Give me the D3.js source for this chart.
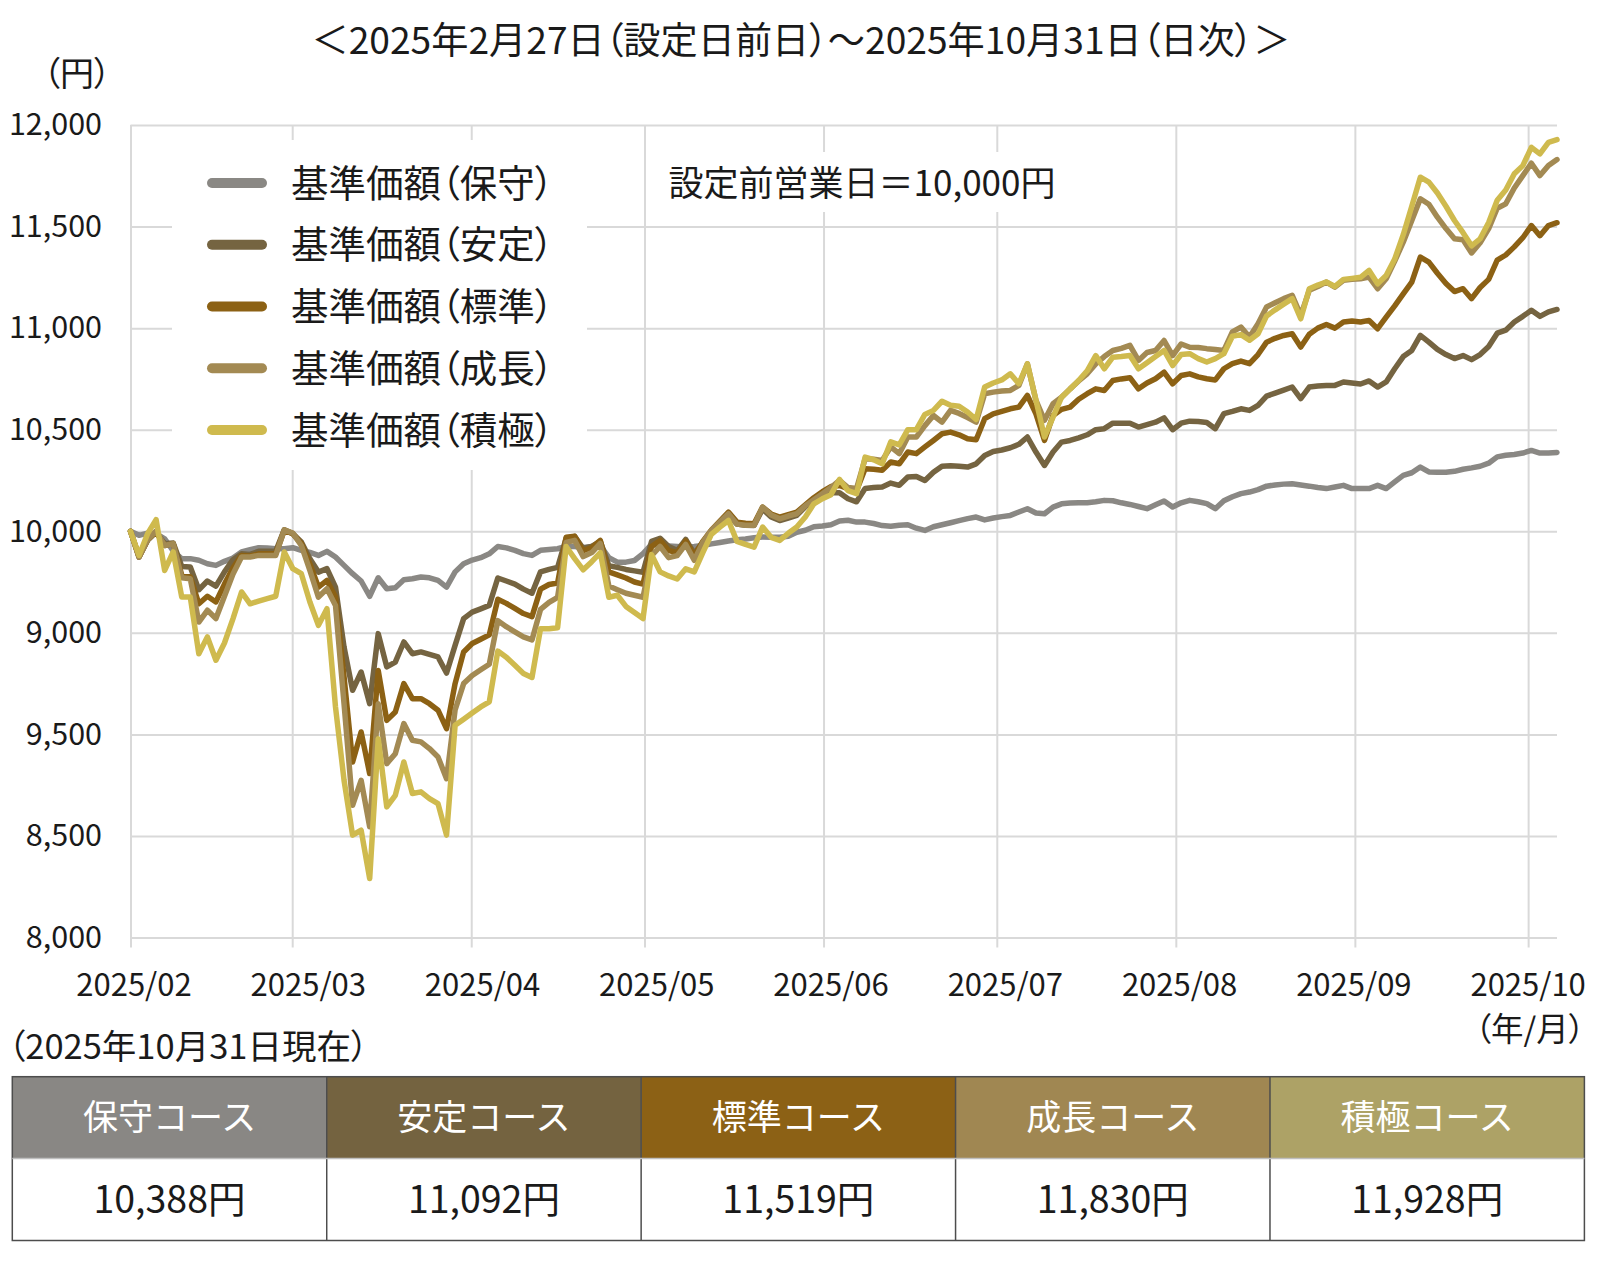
<!DOCTYPE html>
<html lang="ja">
<head>
<meta charset="utf-8">
<title>基準価額の推移</title>
<script src="https://cdn.jsdelivr.net/npm/d3@7"></script>
<style>
  html, body { margin: 0; padding: 0; background: #fff; }
  svg { display: block; font-family: "Noto Sans CJK JP", "Noto Sans", sans-serif; }
  .palt { font-feature-settings: "palt" 1; }
</style>
</head>
<body>
<svg id="chart" width="1602" height="1268"></svg>
<script>
// 2025/2/27(設定日前日)=10,000円 から 2025/10/31 までの営業日ごとの基準価額（168営業日）
const courseNames = ["保守", "安定", "標準", "成長", "積極"];
const lineColors = ["#8a8884", "#756441", "#8c6114", "#a38a53", "#cfba4e"];
const headerColors = ["#898784", "#746340", "#8c6115", "#a08752", "#ada266"];

const xTickLabels = ["2025/02", "2025/03", "2025/04", "2025/05", "2025/06", "2025/07", "2025/08", "2025/09", "2025/10"];
const yTicks = [12000, 11500, 11000, 10500, 10000, 9500, 9000, 8500, 8000];
// 目盛りラベルは元の図のとおり（9,000 と 9,500 の並びも元図に合わせる）
const yTickLabels = ["12,000", "11,500", "11,000", "10,500", "10,000", "9,000", "9,500", "8,500", "8,000"];

const navHoshu = [
  10000, 9980, 9991, 9988, 9963, 9903, 9865, 9865, 9857, 9840,
  9832, 9852, 9868, 9898, 9909, 9919, 9917, 9914, 9914, 9919,
  9906, 9896, 9881, 9901, 9873, 9832, 9791, 9755, 9680, 9771,
  9717, 9722, 9761, 9766, 9775, 9771, 9758, 9725, 9800, 9840,
  9858, 9870, 9889, 9925, 9918, 9906, 9890, 9881, 9906, 9910,
  9914, 9925, 9925, 9920, 9925, 9930, 9870, 9848, 9848, 9856,
  9890, 9935, 9930, 9928, 9925, 9922, 9925, 9930, 9938, 9945,
  9952, 9958, 9962, 9968, 9972, 9970, 9970, 9975, 9995, 10005,
  10022, 10026, 10032, 10050, 10054, 10045, 10045, 10038, 10028, 10025,
  10030, 10032, 10015, 10004, 10022, 10032, 10042, 10052, 10062, 10070,
  10056, 10065, 10072, 10078, 10095, 10111, 10090, 10086, 10119, 10135,
  10139, 10140, 10140, 10145, 10152, 10150, 10140, 10132, 10122, 10111,
  10130, 10149, 10119, 10140, 10152, 10145, 10136, 10111, 10150, 10170,
  10185, 10193, 10205, 10222, 10228, 10232, 10234, 10228, 10222, 10215,
  10210, 10218, 10226, 10210, 10210, 10210, 10226, 10210, 10243, 10275,
  10288, 10316, 10292, 10290, 10290, 10295, 10305, 10312, 10320, 10335,
  10366, 10374, 10378, 10385, 10398, 10385, 10385, 10388
];
const navAntei = [
  10000, 9873, 9955, 9996, 9939, 9942, 9827, 9824, 9712, 9755,
  9730, 9800, 9860, 9889, 9886, 9901, 9901, 9901, 10007, 9988,
  9947, 9865, 9799, 9816, 9725, 9430, 9217, 9307, 9151, 9496,
  9332, 9356, 9455, 9397, 9406, 9394, 9381, 9302, 9438, 9570,
  9602, 9618, 9635, 9770, 9755, 9740, 9715, 9695, 9800, 9812,
  9822, 9965, 9975, 9915, 9925, 9950, 9830, 9822, 9812, 9805,
  9798, 9950, 9965, 9925, 9905, 9960, 9890, 9945, 9995, 10040,
  10078, 10035, 10030, 10028, 10110, 10070, 10053, 10065, 10078, 10120,
  10150, 10170, 10190, 10190, 10160, 10145, 10210, 10215, 10218, 10237,
  10226, 10267, 10270, 10250, 10290, 10320, 10322, 10320, 10316, 10332,
  10373, 10393, 10400, 10411, 10428, 10464, 10390, 10324, 10390, 10439,
  10447, 10460, 10475, 10500, 10505, 10532, 10532, 10532, 10513, 10525,
  10537, 10558, 10500, 10532, 10542, 10540, 10535, 10505, 10579, 10590,
  10603, 10595, 10620, 10665, 10680, 10695, 10710, 10653, 10710, 10715,
  10718, 10718, 10735, 10730, 10725, 10740, 10710, 10735, 10800, 10860,
  10890, 10964, 10931, 10895, 10870, 10850, 10865, 10845, 10870, 10910,
  10975, 10990, 11030, 11058, 11088, 11058, 11080, 11092
];
const navHyojun = [
  10000, 9873, 9958, 9996, 9930, 9939, 9783, 9775, 9643, 9680,
  9652, 9740, 9820, 9881, 9878, 9889, 9889, 9889, 10004, 9988,
  9939, 9840, 9725, 9758, 9676, 9283, 8864, 9012, 8807, 9315,
  9069, 9110, 9250, 9176, 9176, 9151, 9119, 9028, 9250, 9406,
  9447, 9468, 9490, 9665, 9645, 9620, 9595, 9580, 9715, 9738,
  9745, 9970, 9975, 9905, 9920, 9955, 9800, 9785, 9770, 9750,
  9740, 9925, 9955, 9905, 9895, 9952, 9880, 9950, 10005, 10050,
  10094, 10045, 10040, 10037, 10119, 10085, 10070, 10082, 10094, 10130,
  10165, 10195, 10220, 10225, 10209, 10201, 10308, 10305, 10300, 10341,
  10332, 10390, 10382, 10415, 10447, 10480, 10488, 10475, 10455, 10450,
  10554, 10578, 10590, 10603, 10611, 10669, 10578, 10447, 10570, 10600,
  10611, 10650, 10677, 10701, 10693, 10742, 10750, 10756, 10701, 10730,
  10751, 10783, 10726, 10767, 10775, 10760, 10751, 10745, 10800, 10825,
  10838, 10825, 10870, 10931, 10950, 10964, 10972, 10907, 10970, 11000,
  11018, 11000, 11030, 11035, 11030, 11038, 10997, 11054, 11110, 11169,
  11227, 11350, 11325, 11270, 11220, 11180, 11194, 11145, 11200, 11240,
  11335, 11360, 11400, 11445, 11505, 11455, 11505, 11519
];
const navSeicho = [
  10000, 9873, 9958, 10001, 9930, 9939, 9771, 9766, 9553, 9611,
  9570, 9680, 9790, 9873, 9873, 9881, 9881, 9881, 10007, 9991,
  9930, 9807, 9676, 9717, 9635, 9151, 8651, 8774, 8545, 9151,
  8856, 8905, 9053, 8971, 8963, 8930, 8889, 8782, 9120, 9250,
  9290, 9318, 9345, 9560, 9530, 9505, 9480, 9465, 9615, 9650,
  9675, 9945, 9955, 9875, 9895, 9940, 9730, 9712, 9695, 9685,
  9675, 9880, 9925, 9870, 9880, 9935, 9857, 9945, 10005, 10045,
  10086, 10035, 10030, 10029, 10119, 10080, 10061, 10075, 10086, 10125,
  10155, 10185, 10215, 10250, 10215, 10210, 10357, 10355, 10349, 10415,
  10382, 10464, 10464, 10520, 10570, 10537, 10595, 10580, 10560, 10537,
  10677, 10685, 10690, 10693, 10718, 10824, 10644, 10546, 10628, 10660,
  10701, 10740, 10775, 10824, 10860, 10890, 10900, 10915, 10841, 10880,
  10890, 10939, 10865, 10922, 10906, 10905, 10899, 10895, 10890, 10981,
  11005, 10956, 11022, 11104, 11125, 11145, 11161, 11063, 11186, 11205,
  11227, 11202, 11235, 11240, 11243, 11251, 11194, 11243, 11330, 11423,
  11530, 11637, 11610, 11546, 11490, 11440, 11435, 11370, 11420, 11490,
  11590, 11612, 11690, 11751, 11812, 11751, 11801, 11830
];
const navSekkyoku = [
  10000, 9881, 9988, 10057, 9807, 9898, 9676, 9676, 9397, 9480,
  9365, 9450, 9570, 9701, 9643, 9656, 9668, 9680, 9898, 9816,
  9791, 9652, 9537, 9619, 9135, 8774, 8504, 8528, 8290, 8979,
  8643, 8700, 8864, 8709, 8717, 8684, 8659, 8504, 9045, 9075,
  9105, 9135, 9160, 9410, 9380, 9340, 9300, 9280, 9520, 9520,
  9525, 9925, 9865, 9810, 9850, 9895, 9675, 9685, 9630, 9600,
  9570, 9885, 9800, 9780, 9765, 9815, 9800, 9895, 9985, 10020,
  10053, 9950, 9935, 9922, 10021, 9970, 9955, 9990, 10021, 10070,
  10135, 10160, 10180, 10255, 10200, 10185, 10365, 10352, 10332, 10440,
  10425, 10500, 10500, 10575, 10595, 10640, 10620, 10615, 10587, 10550,
  10710, 10730, 10745, 10775, 10726, 10824, 10645, 10464, 10562, 10660,
  10700, 10742, 10790, 10865, 10800, 10857, 10860, 10865, 10800, 10830,
  10860, 10890, 10816, 10870, 10874, 10850, 10833, 10850, 10874, 10960,
  10968, 10940, 10972, 11060, 11090, 11118, 11145, 11046, 11194, 11212,
  11227, 11205, 11240, 11245, 11250, 11284, 11218, 11259, 11340, 11460,
  11600, 11743, 11719, 11665, 11600, 11530, 11470, 11405, 11440, 11520,
  11630, 11680, 11760, 11800, 11890, 11858, 11915, 11928
];
const navAll = [navHoshu, navAntei, navHyojun, navSeicho, navSekkyoku];

const margin = {top: 125, right: 45, bottom: 330.5, left: 130.5},
    width = 1602, height = 1268,
    plotRight = width - margin.right,
    plotBottom = height - margin.bottom;
const textColor = "#1a1a1a", gridColor = "#d9d9d9";

const svg = d3.select("#chart");

// 横軸：データは営業日順に並べる。縦の補助線は月初（暦日）の位置
const x = d3.scaleLinear().domain([0, navHoshu.length - 1]).range([margin.left, plotRight]);
const xTime = d3.scaleTime()
    .domain([new Date(2025, 1, 1), new Date(2025, 9, 6)])
    .range([margin.left, plotRight]);
const xLabel = d3.scalePoint().domain(xTickLabels)
    .range([margin.left + 3.5, xTime(new Date(2025, 9, 1))]);
const y = d3.scaleLinear().domain([8000, 12000]).range([plotBottom, margin.top]);

const yLabelOf = new Map(yTicks.map((v, i) => [v, yTickLabels[i]]));

// 横の補助線と縦軸ラベル
svg.append("g")
    .attr("transform", "translate(" + margin.left + ",0)")
    .call(d3.axisLeft(y).tickValues(yTicks).tickSize(-(plotRight - margin.left))
        .tickPadding(28.5).tickFormat(d => yLabelOf.get(d)))
    .call(g => g.attr("font-family", null).attr("font-size", null))
    .call(g => g.select(".domain").remove())
    .call(g => g.selectAll(".tick line").attr("stroke", gridColor).attr("stroke-width", 2))
    .call(g => g.selectAll(".tick text").attr("fill", textColor).attr("font-size", 30.5));

// 縦の補助線（下に少しはみ出す）
svg.append("g")
    .attr("transform", "translate(0," + (plotBottom + 10) + ")")
    .call(d3.axisBottom(xTime).ticks(d3.timeMonth.every(1))
        .tickSize(-(plotBottom + 10 - margin.top)).tickFormat(""))
    .call(g => g.select(".domain").remove())
    .call(g => g.selectAll(".tick line").attr("stroke", gridColor).attr("stroke-width", 2));

// 横軸ラベル
svg.append("g")
    .selectAll("text")
    .data(xTickLabels)
    .enter().append("text")
      .attr("x", d => xLabel(d))
      .attr("y", 985)
      .attr("dy", "0.35em")
      .attr("text-anchor", "middle")
      .attr("font-size", 31)
      .attr("fill", textColor)
      .text(d => d);

// 凡例・注記の白地
svg.append("rect").attr("x", 172).attr("y", 140).attr("width", 415).attr("height", 330).attr("fill", "#fff");
svg.append("rect").attr("x", 660).attr("y", 152).attr("width", 405).attr("height", 60).attr("fill", "#fff");

// 基準価額の線
const line = d3.line()
    .x((d, i) => x(i))
    .y(d => y(d));

svg.append("g")
    .selectAll("path")
    .data(navAll)
    .enter().append("path")
      .attr("fill", "none")
      .attr("stroke", (d, k) => lineColors[k])
      .attr("stroke-width", 5.5)
      .attr("stroke-linejoin", "round")
      .attr("stroke-linecap", "round")
      .attr("d", line);

// 凡例
const legendY = d3.scalePoint().domain(courseNames).range([183, 430]);
const legend = svg.append("g")
    .selectAll("g")
    .data(courseNames)
    .enter().append("g")
      .attr("transform", d => "translate(0," + legendY(d) + ")");

legend.append("line")
    .attr("x1", 212).attr("x2", 262)
    .attr("stroke", (d, k) => lineColors[k])
    .attr("stroke-width", 10)
    .attr("stroke-linecap", "round");

legend.append("text")
    .attr("class", "palt")
    .attr("x", 291)
    .attr("dy", "0.36em")
    .attr("font-size", 37.5)
    .attr("fill", textColor)
    .text(d => "基準価額（" + d + "）");

// タイトル・注記
svg.append("text").attr("class", "palt")
    .attr("x", width / 2).attr("y", 41).attr("dy", "0.36em")
    .attr("text-anchor", "middle").attr("font-size", 37.2).attr("fill", textColor)
    .text("＜2025年2月27日（設定日前日）～2025年10月31日（日次）＞");

svg.append("text").attr("class", "palt")
    .attr("x", 77).attr("y", 74).attr("dy", "0.36em")
    .attr("text-anchor", "middle").attr("font-size", 34).attr("fill", textColor)
    .text("（円）");

svg.append("text")
    .attr("x", 862).attr("y", 183).attr("dy", "0.36em")
    .attr("text-anchor", "middle").attr("font-size", 35).attr("fill", textColor)
    .text("設定前営業日＝10,000円");

svg.append("text").attr("class", "palt")
    .attr("x", 1585).attr("y", 1029).attr("dy", "0.36em")
    .attr("text-anchor", "end").attr("font-size", 32.5).attr("fill", textColor)
    .text("（年/月）");

svg.append("text").attr("class", "palt")
    .attr("x", 8).attr("y", 1047).attr("dy", "0.36em")
    .attr("font-size", 34.5).attr("fill", textColor)
    .text("（2025年10月31日現在）");

// 基準価額の表
const table = {left: 12.3, right: 1584.4, top: 1076.7, mid: 1158.6, bottom: 1240.5};
const col = d3.scaleBand().domain(courseNames).range([table.left, table.right]);
const formatYen = d3.format(",");

const cells = svg.append("g")
    .selectAll("g")
    .data(courseNames)
    .enter().append("g");

cells.append("rect")
    .attr("x", d => col(d)).attr("y", table.top)
    .attr("width", col.bandwidth()).attr("height", table.mid - table.top)
    .attr("fill", (d, k) => headerColors[k]);

cells.append("rect")
    .attr("x", d => col(d)).attr("y", table.mid)
    .attr("width", col.bandwidth()).attr("height", table.bottom - table.mid)
    .attr("fill", "#fff");

cells.append("text")
    .attr("x", d => col(d) + col.bandwidth() / 2)
    .attr("y", (table.top + table.mid) / 2).attr("dy", "0.36em")
    .attr("text-anchor", "middle").attr("font-size", 35).attr("fill", "#fff")
    .text(d => d + "コース");

cells.append("text")
    .attr("x", d => col(d) + col.bandwidth() / 2)
    .attr("y", (table.mid + table.bottom) / 2).attr("dy", "0.36em")
    .attr("text-anchor", "middle").attr("font-size", 37.5).attr("fill", textColor)
    .text((d, k) => formatYen(navAll[k][navAll[k].length - 1]) + "円");

// 罫線
const rules = svg.append("g").attr("stroke", "#4d4d4d").attr("stroke-width", 1.5).attr("fill", "none");
rules.append("rect")
    .attr("x", table.left).attr("y", table.top)
    .attr("width", table.right - table.left).attr("height", table.bottom - table.top);
rules.selectAll("line")
    .data(courseNames.slice(1))
    .enter().append("line")
      .attr("x1", d => col(d)).attr("x2", d => col(d))
      .attr("y1", table.top).attr("y2", table.bottom);
rules.append("line")
    .attr("x1", table.left).attr("x2", table.right)
    .attr("y1", table.mid).attr("y2", table.mid)
    .attr("stroke", "#bfbfbf");
</script>
</body>
</html>
